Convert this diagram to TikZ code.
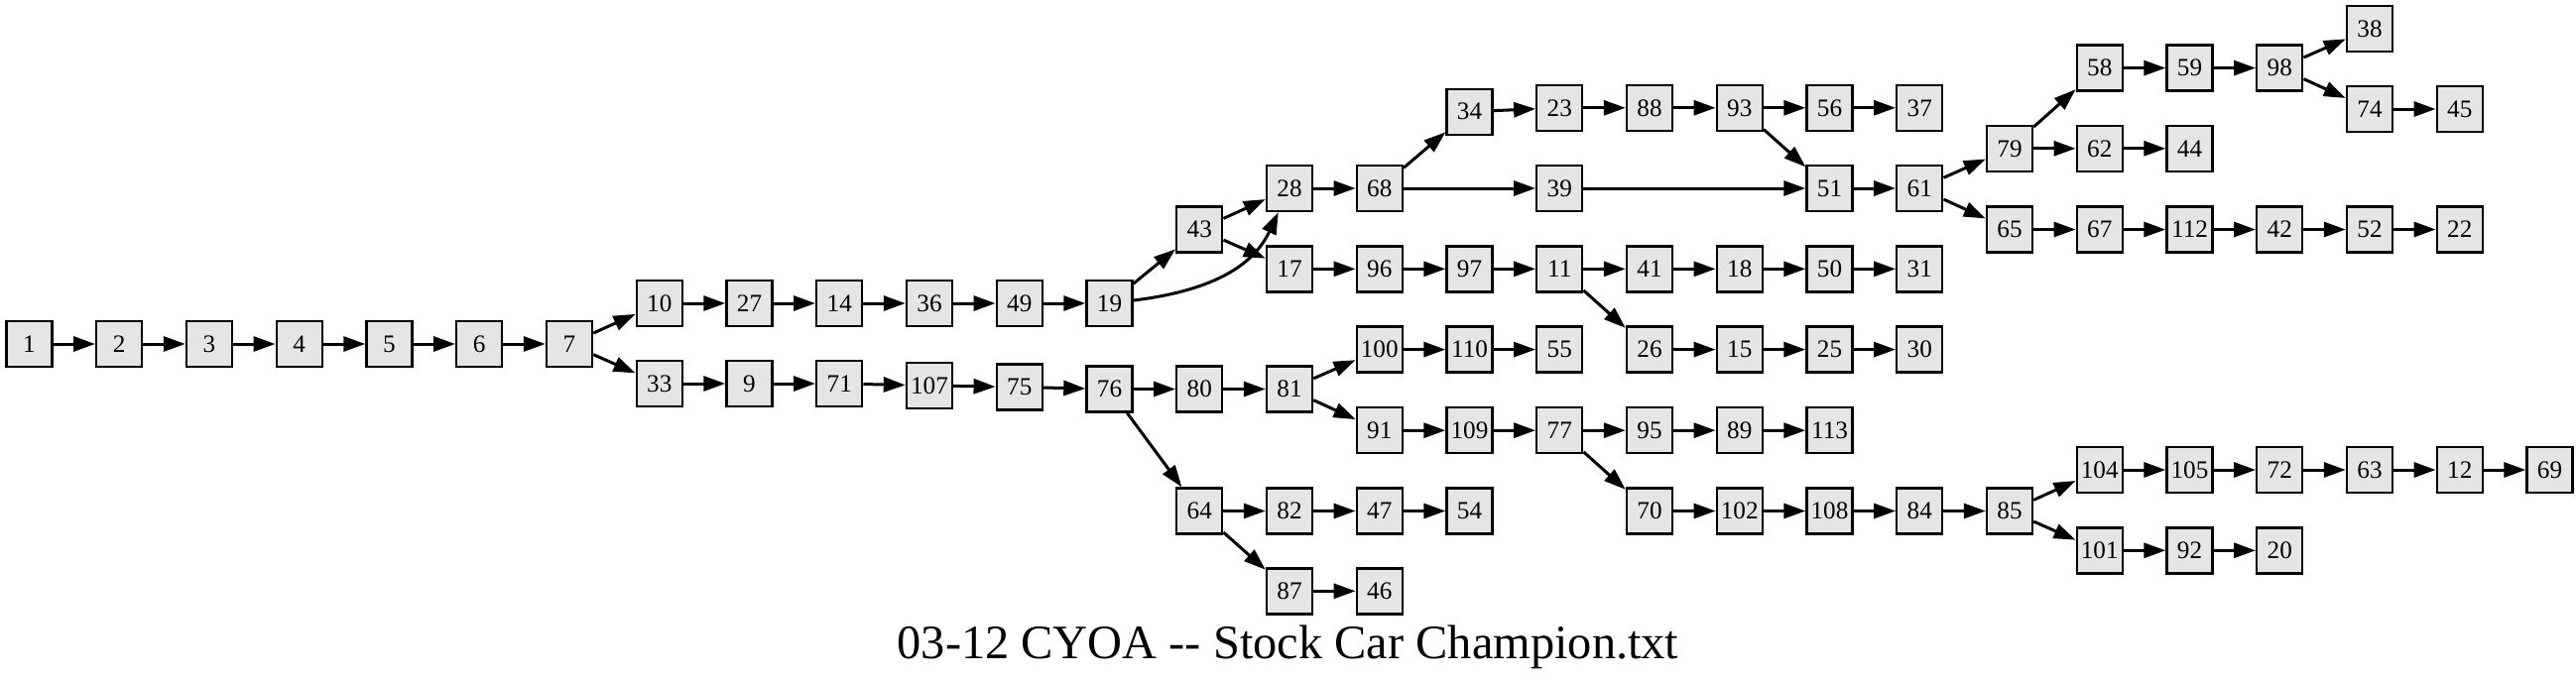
\documentclass[tikz,border=0pt]{standalone}
\usepackage{fontspec}
\setmainfont{Liberation Serif}
\usetikzlibrary{arrows.meta}

\begin{document}
\begin{tikzpicture}[x=0.5pt,y=-0.5pt,
		pagebox/.style={draw,line width=1.2pt,fill=boxfill,minimum size=23pt,inner sep=0.5pt,
			font=\fontsize{12.6pt}{14pt}\selectfont},
		arr/.style={line width=1.5pt,-{Triangle[length=11pt,width=7.5pt]}}]
			\def\colw{90.75}
			\def\mypage#1#2#3{\node[pagebox] (p#1) at ({29.5+\colw*#2},#3) {#1};}
			\def\mylink#1#2{\draw[arr] (p#1) -- (p#2);}
			\colorlet{boxfill}{gray!20}
			
			\useasboundingbox (0,0) rectangle (2597,685);
			
			% start of the book
			\mypage{1}{0}{347} \mypage{2}{1}{347} \mypage{3}{2}{347} \mypage{4}{3}{347}
			\mypage{5}{4}{347} \mypage{6}{5}{347} \mypage{7}{6}{347}
			
			% upper branch
			\mypage{10}{7}{306} \mypage{27}{8}{306} \mypage{14}{9}{306} \mypage{36}{10}{306}
			\mypage{49}{11}{306} \mypage{19}{12}{306}
			\mypage{43}{13}{231.5}
			\mypage{28}{14}{190} \mypage{68}{15}{190} \mypage{39}{17}{190} \mypage{51}{20}{190} \mypage{61}{21}{190}
			\mypage{34}{16}{112.7}
			\mypage{23}{17}{108.8} \mypage{88}{18}{108.8} \mypage{93}{19}{108.8} \mypage{56}{20}{108.8} \mypage{37}{21}{108.8}
			\mypage{17}{14}{271.3} \mypage{96}{15}{271.3} \mypage{97}{16}{271.3} \mypage{11}{17}{271.3}
			\mypage{41}{18}{271.3} \mypage{18}{19}{271.3} \mypage{50}{20}{271.3} \mypage{31}{21}{271.3}
			\mypage{26}{18}{352.6} \mypage{15}{19}{352.6} \mypage{25}{20}{352.6} \mypage{30}{21}{352.6}
			
			% after page 61
			\mypage{79}{22}{149.8} \mypage{62}{23}{149.8} \mypage{44}{24}{149.8}
			\mypage{58}{23}{68.6} \mypage{59}{24}{68.6} \mypage{98}{25}{68.6}
			\mypage{38}{26}{28.8}
			\mypage{74}{26}{110} \mypage{45}{27}{110}
			\mypage{65}{22}{231.5} \mypage{67}{23}{231.5} \mypage{112}{24}{231.5}
			\mypage{42}{25}{231.5} \mypage{52}{26}{231.5} \mypage{22}{27}{231.5}
			
			% lower branch
			\mypage{33}{7}{387} \mypage{9}{8}{387} \mypage{71}{9}{387} \mypage{107}{10}{389}
			\mypage{75}{11}{390.5} \mypage{76}{12}{392.5} \mypage{80}{13}{392.5} \mypage{81}{14}{392.5}
			\mypage{100}{15}{352.6} \mypage{110}{16}{352.6} \mypage{55}{17}{352.6}
			\mypage{91}{15}{434.2} \mypage{109}{16}{434.2} \mypage{77}{17}{434.2}
			\mypage{95}{18}{434.2} \mypage{89}{19}{434.2} \mypage{113}{20}{434.2}
			\mypage{64}{13}{515.5} \mypage{82}{14}{515.5} \mypage{47}{15}{515.5} \mypage{54}{16}{515.5}
			\mypage{87}{14}{596.3} \mypage{46}{15}{596.3}
			\mypage{70}{18}{515.5} \mypage{102}{19}{515.5} \mypage{108}{20}{515.5}
			\mypage{84}{21}{515.5} \mypage{85}{22}{515.5}
			\mypage{104}{23}{474} \mypage{105}{24}{474} \mypage{72}{25}{474}
			\mypage{63}{26}{474} \mypage{12}{27}{474} \mypage{69}{28}{474}
			\mypage{101}{23}{555.3} \mypage{92}{24}{555.3} \mypage{20}{25}{555.3}
			
			% choices
			\mylink{1}{2} \mylink{2}{3} \mylink{3}{4} \mylink{4}{5} \mylink{5}{6} \mylink{6}{7}
			\mylink{7}{10} \mylink{7}{33}
			\mylink{10}{27} \mylink{27}{14} \mylink{14}{36} \mylink{36}{49} \mylink{49}{19}
			\mylink{19}{43} \mylink{43}{28} \mylink{43}{17}
			\draw[arr] (p19) to[out=7,in=-115] (p28);
			\mylink{28}{68} \mylink{68}{34} \mylink{68}{39}
			\mylink{34}{23} \mylink{23}{88} \mylink{88}{93} \mylink{93}{56} \mylink{93}{51} \mylink{56}{37}
			\mylink{39}{51} \mylink{51}{61} \mylink{61}{79} \mylink{61}{65}
			\mylink{79}{58} \mylink{79}{62} \mylink{58}{59} \mylink{59}{98} \mylink{98}{38} \mylink{98}{74}
			\mylink{74}{45} \mylink{62}{44}
			\mylink{65}{67} \mylink{67}{112} \mylink{112}{42} \mylink{42}{52} \mylink{52}{22}
			\mylink{17}{96} \mylink{96}{97} \mylink{97}{11} \mylink{11}{41} \mylink{11}{26}
			\mylink{41}{18} \mylink{18}{50} \mylink{50}{31}
			\mylink{26}{15} \mylink{15}{25} \mylink{25}{30}
			\mylink{33}{9} \mylink{9}{71} \mylink{71}{107} \mylink{107}{75} \mylink{75}{76}
			\mylink{76}{80} \mylink{76}{64} \mylink{80}{81}
			\mylink{81}{100} \mylink{81}{91} \mylink{100}{110} \mylink{110}{55}
			\mylink{91}{109} \mylink{109}{77} \mylink{77}{95} \mylink{77}{70} \mylink{95}{89} \mylink{89}{113}
			\mylink{70}{102} \mylink{102}{108} \mylink{108}{84} \mylink{84}{85}
			\mylink{85}{104} \mylink{85}{101}
			\mylink{104}{105} \mylink{105}{72} \mylink{72}{63} \mylink{63}{12} \mylink{12}{69}
			\mylink{101}{92} \mylink{92}{20}
			\mylink{64}{82} \mylink{64}{87} \mylink{82}{47} \mylink{47}{54} \mylink{87}{46}
			
			\node[anchor=base,font=\fontsize{24.2pt}{29pt}\selectfont] (title) at (1298.5,664)
			{03-12 CYOA {-}{-} Stock Car Champion.txt};
\end{tikzpicture}
\end{document}
